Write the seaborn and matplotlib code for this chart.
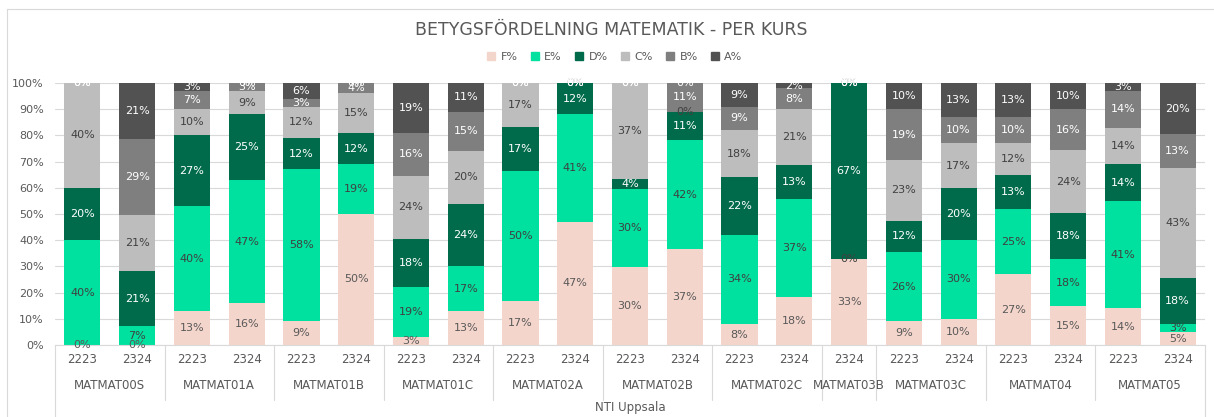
import numpy as np
import pandas as pd
import matplotlib
matplotlib.use("Agg")
import matplotlib.pyplot as plt
import matplotlib.transforms as mtransforms
from matplotlib.lines import Line2D
from matplotlib.patches import Patch
from matplotlib.ticker import PercentFormatter
import seaborn as sns

# Grade distribution per course and school year (percent, as labelled)
courses = ["MATMAT00S", "MATMAT00S", "MATMAT01A", "MATMAT01A", "MATMAT01B", "MATMAT01B",
           "MATMAT01C", "MATMAT01C", "MATMAT02A", "MATMAT02A", "MATMAT02B", "MATMAT02B",
           "MATMAT02C", "MATMAT02C", "MATMAT03B", "MATMAT03C", "MATMAT03C",
           "MATMAT04", "MATMAT04", "MATMAT05", "MATMAT05"]
years = ["2223", "2324", "2223", "2324", "2223", "2324", "2223", "2324", "2223", "2324",
         "2223", "2324", "2223", "2324", "2324", "2223", "2324", "2223", "2324", "2223", "2324"]
f_pct = [0, 0, 13, 16, 9, 50, 3, 13, 17, 47, 30, 37, 8, 18, 33, 9, 10, 27, 15, 14, 5]
e_pct = [40, 7, 40, 47, 58, 19, 19, 17, 50, 41, 30, 42, 34, 37, 0, 26, 30, 25, 18, 41, 3]
d_pct = [20, 21, 27, 25, 12, 12, 18, 24, 17, 12, 4, 11, 22, 13, 67, 12, 20, 13, 18, 14, 18]
c_pct = [40, 21, 10, 9, 12, 15, 24, 20, 17, 0, 37, 0, 18, 21, 0, 23, 17, 12, 24, 14, 43]
b_pct = [0, 29, 7, 3, 3, 4, 16, 15, 0, 0, 0, 11, 9, 8, 0, 19, 10, 10, 16, 14, 13]
a_pct = [0, 21, 3, 0, 6, 0, 19, 11, 0, 0, 0, 0, 9, 2, 0, 10, 13, 13, 10, 3, 20]
school = "NTI Uppsala"

grades = ["F%", "E%", "D%", "C%", "B%", "A%"]
colors = {"F%": "#F4D5CB", "E%": "#00E09E", "D%": "#006B4A",
          "C%": "#BDBDBD", "B%": "#7F7F7F", "A%": "#525252"}
label_colors = {"F%": "#595959", "E%": "#404040", "D%": "#FFFFFF",
                "C%": "#404040", "B%": "#FFFFFF", "A%": "#FFFFFF"}

df = pd.DataFrame({"course": courses, "year": years, "F%": f_pct, "E%": e_pct,
                   "D%": d_pct, "C%": c_pct, "B%": b_pct, "A%": a_pct})
df["bar"] = df["course"] + " " + df["year"]
# 100% stacked: normalise each bar to its total
shares = df[grades].div(df[grades].sum(axis=1), axis=0)

sns.set_style("white")
plt.rcParams["font.family"] = ["DejaVu Sans"]
txt = "#595959"
grid_c = "#D9D9D9"

fig = plt.figure(figsize=(12.14, 4.17), dpi=100)
ax = fig.add_axes([55 / 1214, 72 / 417, 1150 / 1214, 262 / 417])

n = len(df)
bottom = np.zeros(n)
for g in grades:
    sns.barplot(x=df["bar"], y=shares[g].values, bottom=bottom, color=colors[g],
                saturation=1, width=0.66, linewidth=0, errorbar=None,
                order=list(df["bar"]), ax=ax)
    for i in range(n):
        ax.text(i, bottom[i] + shares[g].iloc[i] / 2, f"{df[g].iloc[i]}%",
                ha="center", va="center", fontsize=8, color=label_colors[g])
    bottom = bottom + shares[g].values

ax.set_xlim(-0.5, n - 0.5)
ax.set_ylim(0, 1)
ax.set_yticks(np.arange(0, 1.01, 0.1))
ax.yaxis.set_major_formatter(PercentFormatter(1.0, decimals=0))
ax.yaxis.grid(True, color=grid_c, lw=0.8)
ax.set_axisbelow(True)
ax.tick_params(axis="y", length=0, pad=8, labelsize=8, labelcolor=txt)
ax.set_xticks(range(n))
ax.set_xticklabels(df["year"])
ax.tick_params(axis="x", length=0, pad=6, labelsize=8.5, labelcolor=txt)
ax.set_xlabel("")
ax.set_ylabel("")
for s in ["top", "right", "left"]:
    ax.spines[s].set_visible(False)
ax.spines["bottom"].set_color(grid_c)

# multi-level category axis
trans = mtransforms.blended_transform_factory(ax.transData, ax.transAxes)
starts = [i for i in range(n) if i == 0 or courses[i] != courses[i - 1]]
ends = starts[1:] + [n]
for s, e in zip(starts, ends):
    ax.text((s + e - 1) / 2, -0.155, courses[s], transform=trans, ha="center",
            va="center", fontsize=8.5, color=txt)
for s in starts[1:]:
    ax.add_line(Line2D([s - 0.5, s - 0.5], [0, -0.21], transform=trans,
                       color=grid_c, lw=0.8, clip_on=False))
for xb in [-0.5, n - 0.5]:
    ax.add_line(Line2D([xb, xb], [0, -0.35], transform=trans,
                       color=grid_c, lw=0.8, clip_on=False))
ax.text(0.5, -0.238, school, transform=ax.transAxes, ha="center", va="center",
        fontsize=8.5, color=txt)

# chart area border
fig.add_artist(Line2D([6.5 / 1214, 1.0], [1 - 9 / 417] * 2, color=grid_c, lw=0.8))
fig.add_artist(Line2D([6.5 / 1214] * 2, [0, 1 - 9 / 417], color=grid_c, lw=0.8))

fig.text(611 / 1214, 1 - 30 / 417, "BETYGSFÖRDELNING MATEMATIK - PER KURS",
         ha="center", va="center", fontsize=12.5, color=txt)
handles = [Patch(color=colors[g], label=g) for g in grades]
fig.legend(handles=handles, loc="center", bbox_to_anchor=(615 / 1214, 1 - 57 / 417),
           ncol=6, frameon=False, fontsize=8, handlelength=0.7, handleheight=0.7,
           handletextpad=0.5, columnspacing=1.2, labelcolor=txt)

fig.savefig("out.png", dpi=100)
